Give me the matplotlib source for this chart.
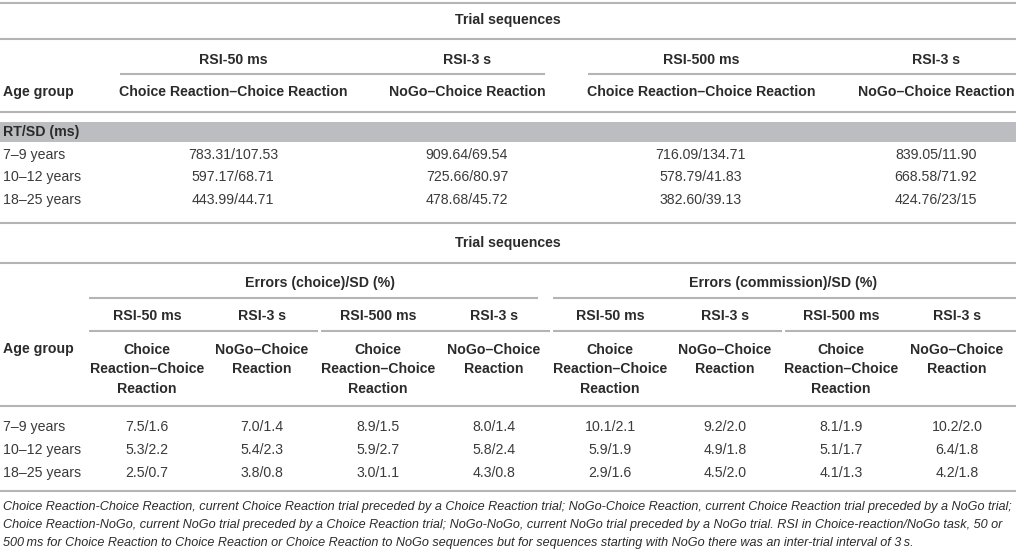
import matplotlib
matplotlib.use("Agg")
import matplotlib.pyplot as plt

# ---------------- data ----------------
title_top = "Trial sequences"
rsi_top = ["RSI-50 ms", "RSI-3 s", "RSI-500 ms", "RSI-3 s"]
seq_top = ["Choice Reaction–Choice Reaction", "NoGo–Choice Reaction",
           "Choice Reaction–Choice Reaction", "NoGo–Choice Reaction"]
section_top = "RT/SD (ms)"
age_groups = ["7–9 years", "10–12 years", "18–25 years"]
rt_values = [
    ["783.31/107.53", "909.64/69.54", "716.09/134.71", "839.05/11.90"],
    ["597.17/68.71", "725.66/80.97", "578.79/41.83", "668.58/71.92"],
    ["443.99/44.71", "478.68/45.72", "382.60/39.13", "424.76/23/15"],
]

groups_bottom = ["Errors (choice)/SD (%)", "Errors (commission)/SD (%)"]
rsi_bottom = ["RSI-50 ms", "RSI-3 s", "RSI-500 ms", "RSI-3 s"] * 2
seq_bottom = ["Choice\nReaction–Choice\nReaction", "NoGo–Choice\nReaction",
              "Choice\nReaction–Choice\nReaction", "NoGo–Choice\nReaction"] * 2
err_values = [
    ["7.5/1.6", "7.0/1.4", "8.9/1.5", "8.0/1.4", "10.1/2.1", "9.2/2.0", "8.1/1.9", "10.2/2.0"],
    ["5.3/2.2", "5.4/2.3", "5.9/2.7", "5.8/2.4", "5.9/1.9", "4.9/1.8", "5.1/1.7", "6.4/1.8"],
    ["2.5/0.7", "3.8/0.8", "3.0/1.1", "4.3/0.8", "2.9/1.6", "4.5/2.0", "4.1/1.3", "4.2/1.8"],
]
footnote = [
    "Choice Reaction-Choice Reaction, current Choice Reaction trial preceded by a Choice Reaction trial; NoGo-Choice Reaction, current Choice Reaction trial preceded by a NoGo trial;",
    "Choice Reaction-NoGo, current NoGo trial preceded by a Choice Reaction trial; NoGo-NoGo, current NoGo trial preceded by a NoGo trial. RSI in Choice-reaction/NoGo task, 50 or",
    "500\u2009ms for Choice Reaction to Choice Reaction or Choice Reaction to NoGo sequences but for sequences starting with NoGo there was an inter-trial interval of 3\u2009s.",
]

# ---------------- layout ----------------
W, H = 1016, 552
fig = plt.figure(figsize=(W / 100, H / 100), dpi=100)
ax = fig.add_axes([0, 0, 1, 1])
ax.set_xlim(0, W)
ax.set_ylim(H, 0)
ax.axis("off")

TXT = "#2b2b2b"
DATA = "#3a3a3a"
LINE = "#b4b4b4"
BAND = "#bcbdc0"
FONT = ["Liberation Sans", "DejaVu Sans"]
FS = 10.2
LW = 1.5

def t(x, y, s, ha="center", bold=False, color=TXT, **kw):
    ax.text(x, y, s, ha=ha, va="center", fontsize=kw.pop("fs", FS),
            fontweight="bold" if bold else "normal", color=color,
            family=kw.pop("family", FONT), **kw)

def hl(y, x0=0, x1=W):
    ax.plot([x0, x1], [y, y], color=LINE, lw=LW, solid_capstyle="butt")

# ----- top table -----
hl(3)
t(508, 20, title_top, bold=True)
hl(39)
top_cx = [233, 467, 701, 936]
for i, s in enumerate(rsi_top):
    t(top_cx[i], 60, s, bold=True)
hl(74, 120, 545)
hl(74, 588, W)
t(3, 92, "Age group", ha="left", bold=True)
for i, s in enumerate(seq_top):
    t(top_cx[i], 92, s, bold=True)
hl(112)
ax.add_patch(plt.Rectangle((0, 122), W, 20, color=BAND, lw=0))
t(3, 132, section_top, ha="left", bold=True)
row_y = [155, 177, 200]
for r, age in enumerate(age_groups):
    t(3, row_y[r], age, ha="left", color=DATA)
    for i, v in enumerate(rt_values[r]):
        t(top_cx[i], row_y[r], v, color=DATA)
hl(223)

# ----- bottom table -----
t(508, 243, title_top, bold=True)
hl(263)
t(320, 283, groups_bottom[0], bold=True)
t(783, 283, groups_bottom[1], bold=True)
hl(298, 89, 538)
hl(298, 553, W)
bot_cx = [147, 262, 378, 494, 610, 725, 841, 957]
for i, s in enumerate(rsi_bottom):
    t(bot_cx[i], 316, s, bold=True)
for x0, x1 in [(89, 318), (321, 550), (553, 782), (785, W)]:
    hl(331, x0, x1)
t(3, 349, "Age group", ha="left", bold=True)
for i, s in enumerate(seq_bottom):
    ax.text(bot_cx[i], 343, s, ha="center", va="top", fontsize=FS,
            fontweight="bold", color=TXT, family=FONT, linespacing=1.48)
hl(406)
row_y2 = [427, 450, 473]
for r, age in enumerate(age_groups):
    t(3, row_y2[r], age, ha="left", color=DATA)
    for i, v in enumerate(err_values[r]):
        t(bot_cx[i], row_y2[r], v, color=DATA)
hl(491)

foot_y = [507, 525, 543]
for y, s in zip(foot_y, footnote):
    ax.text(3, y, s, ha="left", va="center", fontsize=9.1, style="italic",
            color=TXT, family=["Liberation Sans Narrow", "Liberation Sans", "DejaVu Sans"])

fig.savefig("out.png", dpi=100)
